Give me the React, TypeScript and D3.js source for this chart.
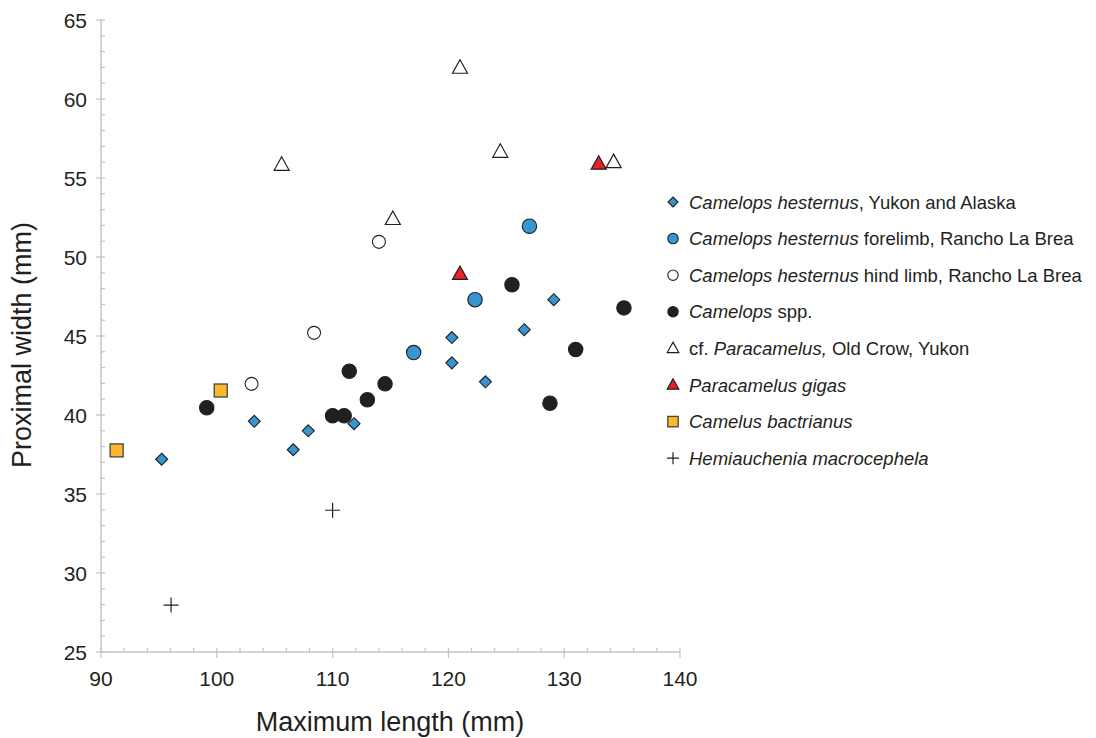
import React from "react";
import * as d3 from "d3";

const yukonAlaska: [number, number][] = [
  [95.24, 37.2], [103.24, 39.6], [106.6, 37.8], [107.9, 39.0], [111.85, 39.45],
  [120.3, 44.9], [120.3, 43.3], [123.2, 42.1], [126.55, 45.4], [129.1, 47.3],
];
const foreLimb: [number, number][] = [[117.0, 43.95], [122.3, 47.3], [127.0, 51.95]];
const hindLimb: [number, number][] = [[103.0, 41.97], [108.4, 45.2], [114.0, 50.96]];
const camelopsSpp: [number, number][] = [
  [99.13, 40.46], [110.0, 39.95], [111.0, 39.95], [111.44, 42.77], [113.0, 40.96],
  [114.53, 41.97], [125.49, 48.25], [128.77, 40.75], [130.99, 44.14], [135.16, 46.78],
];
const oldCrow: [number, number][] = [[105.6, 55.83], [115.2, 52.4], [121.0, 61.97], [124.48, 56.65], [134.27, 56.0]];
const gigas: [number, number][] = [[121.0, 48.92], [132.98, 55.9]];
const bactrianus: [number, number][] = [[91.35, 37.76], [100.34, 41.55]];
const hemiauchenia: [number, number][] = [[96.05, 27.97], [110.0, 33.97]];

const xTicks = [90, 100, 110, 120, 130, 140];
const yTicks = [25, 30, 35, 40, 45, 50, 55, 60, 65];

type Shape = "diamond" | "circle" | "triangle" | "square" | "plus";
interface Series { name: React.ReactNode; data: [number, number][]; shape: Shape; fill: string; size: number; lsize: number; }

const BLUE = "#3696d1";
const DARK = "#231f20";
const RED = "#e8202a";
const YELLOW = "#fbb829";

const series: Series[] = [
  { name: <><tspan fontStyle="italic">Camelops hesternus</tspan>, Yukon and Alaska</>, data: yukonAlaska, shape: "diamond", fill: BLUE, size: 6, lsize: 5 },
  { name: <><tspan fontStyle="italic">Camelops hesternus</tspan> forelimb, Rancho La Brea</>, data: foreLimb, shape: "circle", fill: BLUE, size: 7.2, lsize: 5.2 },
  { name: <><tspan fontStyle="italic">Camelops hesternus</tspan> hind limb, Rancho La Brea</>, data: hindLimb, shape: "circle", fill: "#ffffff", size: 6.5, lsize: 5.2 },
  { name: <><tspan fontStyle="italic">Camelops</tspan> spp.</>, data: camelopsSpp, shape: "circle", fill: DARK, size: 7.2, lsize: 5.2 },
  { name: <>cf. <tspan fontStyle="italic">Paracamelus,</tspan> Old Crow, Yukon</>, data: oldCrow, shape: "triangle", fill: "#ffffff", size: 7.5, lsize: 5.8 },
  { name: <tspan fontStyle="italic">Paracamelus gigas</tspan>, data: gigas, shape: "triangle", fill: RED, size: 7.5, lsize: 5.8 },
  { name: <tspan fontStyle="italic">Camelus bactrianus</tspan>, data: bactrianus, shape: "square", fill: YELLOW, size: 6.5, lsize: 5.2 },
  { name: <tspan fontStyle="italic">Hemiauchenia macrocephela</tspan>, data: hemiauchenia, shape: "plus", fill: "none", size: 7.5, lsize: 6 },
];

function Marker({ shape, x, y, s, fill }: { shape: Shape; x: number; y: number; s: number; fill: string }) {
  const stroke = DARK;
  if (shape === "circle") return <circle cx={x} cy={y} r={s} fill={fill} stroke={stroke} strokeWidth={1.1} />;
  if (shape === "diamond") return <path d={`M${x},${y - s}L${x + s},${y}L${x},${y + s}L${x - s},${y}Z`} fill={fill} stroke={stroke} strokeWidth={1.1} />;
  if (shape === "square") return <rect x={x - s} y={y - s} width={2 * s} height={2 * s} fill={fill} stroke="#444" strokeWidth={1.3} />;
  if (shape === "triangle") {
    const h = s * 1.8;
    return <path d={`M${x},${y - h * 0.6}L${x + s},${y + h * 0.4}L${x - s},${y + h * 0.4}Z`} fill={fill} stroke={stroke} strokeWidth={1.2} strokeLinejoin="miter" />;
  }
  return <path d={`M${x - s},${y}H${x + s}M${x},${y - s}V${y + s}`} stroke={stroke} strokeWidth={1.2} fill="none" />;
}

export default function App() {
  const W = 1096, H = 738;
  const x = d3.scaleLinear().domain([90, 140]).range([101, 680]);
  const y = d3.scaleLinear().domain([25, 65]).range([652, 20]);
  const axisColor = "#c4c4c4";
  const font = "Liberation Sans, Arial, sans-serif";
  const xMinor = d3.range(90, 140.01, 2);
  const yMinor = d3.range(25, 65.01, 1);

  return (
    <svg width={W} height={H} style={{ position: "absolute", left: 0, top: 0 }} fontFamily={font}>
      <rect width={W} height={H} fill="#fff" />
      {/* axes */}
      <line x1={x(90)} x2={x(90)} y1={y(65)} y2={y(25)} stroke={axisColor} strokeWidth={1.5} />
      <line x1={x(90)} x2={x(140)} y1={y(25)} y2={y(25)} stroke={axisColor} strokeWidth={1.5} />
      {yMinor.map((v) => (
        <line key={"ym" + v} x1={x(90) - (v % 5 === 0 ? 5 : 0)} x2={x(90) + 4} y1={y(v)} y2={y(v)} stroke={axisColor} strokeWidth={1.2} />
      ))}
      {xMinor.map((v) => (
        <line key={"xm" + v} x1={x(v)} x2={x(v)} y1={y(25) - 4} y2={y(25) + (v % 10 === 0 ? 6 : 0)} stroke={axisColor} strokeWidth={1.2} />
      ))}
      {yTicks.map((v) => (
        <text key={"yt" + v} x={87} y={y(v)} dy="0.36em" textAnchor="end" fontSize={21} fill={DARK}>{v}</text>
      ))}
      {xTicks.map((v) => (
        <text key={"xt" + v} x={x(v)} y={686} textAnchor="middle" fontSize={21} fill={DARK}>{v}</text>
      ))}
      <text x={390} y={731} textAnchor="middle" fontSize={27} fill={DARK}>Maximum length (mm)</text>
      <text transform="translate(31,345) rotate(-90)" textAnchor="middle" fontSize={27} fill={DARK}>Proximal width (mm)</text>

      {/* points */}
      {series.map((s, i) => (
        <g key={"s" + i}>
          {s.data.map((d, j) => (
            <Marker key={j} shape={s.shape} x={x(d[0])} y={y(d[1])} s={s.size} fill={s.fill} />
          ))}
        </g>
      ))}

      {/* legend */}
      {series.map((s, i) => {
        const ly = 202 + i * 36.6;
        return (
          <g key={"l" + i}>
            <Marker shape={s.shape} x={673} y={ly} s={s.lsize} fill={s.fill} />
            <text x={689} y={ly} dy="0.36em" fontSize={18.5} fill={DARK}>{s.name}</text>
          </g>
        );
      })}
    </svg>
  );
}
